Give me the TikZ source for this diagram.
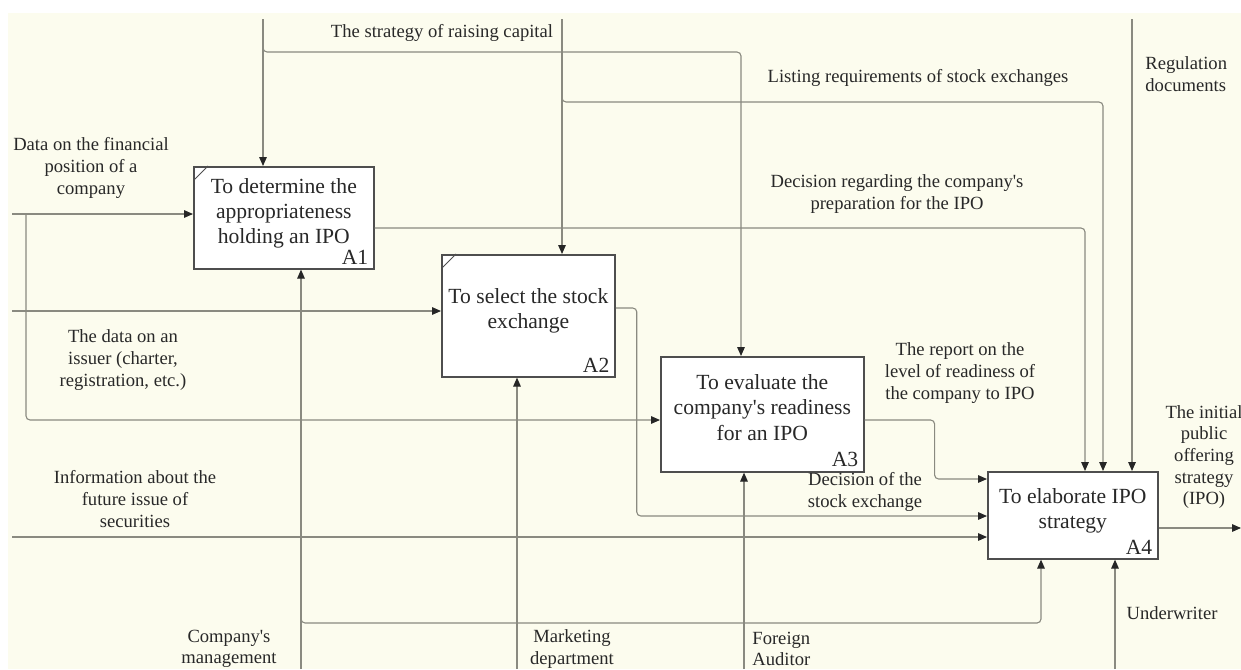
\documentclass[tikz,border=0pt]{standalone}
\usepackage{fontspec}
\setmainfont{Liberation Serif}
\usepackage{tikz}
\usetikzlibrary{arrows.meta,positioning,calc}
\definecolor{idefbg}{RGB}{252,252,238}
\definecolor{idefline}{RGB}{138,138,128}
\definecolor{idefborder}{RGB}{78,78,78}
\definecolor{ideftext}{RGB}{40,40,40}
\tikzstyle{fnbox} = [rectangle, draw=idefborder, fill=white, line width=0.8pt, anchor=north west, align=center, text depth=7pt, text=ideftext, font=\fontsize{10.8}{12.6}\selectfont]
\tikzstyle{boxnum} = [anchor=south east, inner xsep=3pt, inner ysep=2.5pt, text=ideftext, font=\fontsize{10.8}{12}\selectfont]
\tikzstyle{conn} = [draw=idefline, line width=0.55pt, rounded corners=2pt]
\tikzstyle{arr} = [conn, -{Triangle[length=4.5pt,width=3.8pt,color=black!85]}]
\tikzstyle{lbl} = [align=center, inner sep=0pt, text=ideftext, font=\fontsize{9.3}{10.8}\selectfont]

\begin{document}
\begin{tikzpicture}[x=0.5pt, y=-0.5pt]
% Sheet
\fill[idefbg] (8,13) rectangle (1241,669);
\useasboundingbox (0,0) rectangle (1241,669);

% Activities
\node[fnbox, minimum width=90pt, minimum height=51pt] (a1) at (193,166) {To determine the\\appropriateness\\holding an IPO};
\node[fnbox, minimum width=85pt, minimum height=61pt] (a2) at (441,254) {To select the stock\\exchange};
\node[fnbox, minimum width=101.5pt, minimum height=57.5pt] (a3) at (660,356) {To evaluate the\\company\textquotesingle s readiness\\for an IPO};
\node[fnbox, minimum width=85pt, minimum height=43.5pt] (a4) at (987,471) {To elaborate IPO\\strategy};
\node[boxnum] (a1num) at (a1.south east) {A1};
\node[boxnum] (a2num) at (a2.south east) {A2};
\node[boxnum] (a3num) at (a3.south east) {A3};
\node[boxnum] (a4num) at (a4.south east) {A4};
\draw[idefborder, line width=0.4pt] ($(a1.north west)+(1,14)$) -- ($(a1.north west)+(15,0)$);
\draw[idefborder, line width=0.4pt] ($(a2.north west)+(1,14)$) -- ($(a2.north west)+(15,0)$);

% Controls
\coordinate (ctl1) at (263,19);
\coordinate (ctl2) at (562,19);
\coordinate (ctl3) at (1132,19);
\coordinate (ctl1b) at (263,44);
\coordinate (ctl2b) at (562,94);
\draw[arr] (ctl1) -- (ctl1 |- a1.north);
\draw[arr] (ctl1b) -- ++(0,8) -| ($(a3.north west)+(81,0)$);
\draw[arr] (ctl2) -- (ctl2 |- a2.north);
\draw[arr] (ctl2b) -- ++(0,8) -| ($(a4.north west)+(116,0)$);
\draw[arr] (ctl3) -- (ctl3 |- a4.north);

% Inputs
\coordinate (in1) at (12,214);
\coordinate (in2) at (12,311);
\coordinate (in3) at (12,537);
\coordinate (in1b) at (26,214);
\draw[arr] (in1) -- (in1 -| a1.west);
\draw[arr] (in1b) |- ($(a3.north west)+(0,64)$);
\draw[arr] (in2) -- (in2 -| a2.west);
\draw[arr] (in3) -- (in3 -| a4.west);

% Outputs
\coordinate (out1) at (1241,528);
\draw[arr] ($(a1.north east)+(0,62)$) -| ($(a4.north west)+(98,0)$);
\draw[arr] ($(a2.north east)+(0,54)$) -- ++(21,0) |- ($(a4.north west)+(0,45)$);
\draw[arr] ($(a3.north east)+(0,64)$) -- ++(70,0) |- ($(a4.north west)+(0,8)$);
\draw[arr] (out1 -| a4.east) -- (out1);

% Mechanisms
\coordinate (mec1) at (301,669);
\coordinate (mec2) at (517,669);
\coordinate (mec3) at (744,669);
\coordinate (mec4) at (1115,669);
\coordinate (mec1b) at (301,616);
\draw[arr] (mec1) -- (mec1 |- a1.south);
\draw[arr] (mec1b) -- ++(0,7) -| ($(a4.south west)+(54,0)$);
\draw[arr] (mec2) -- (mec2 |- a2.south);
\draw[arr] (mec3) -- (mec3 |- a3.south);
\draw[arr] (mec4) -- (mec4 |- a4.south);

% Arrow labels
\node[lbl] (l-strategy) at (442,33) {The strategy of raising capital};
\node[lbl] (l-listing) at (918,78) {Listing requirements of stock exchanges};
\node[lbl] (l-decision) at (897,194) {Decision regarding the company\textquotesingle s\\preparation for the IPO};
\node[lbl, align=left, anchor=west] (l-regulation) at (1145,74) {Regulation\\documents};
\node[lbl] (l-financial) at (91,168) {Data on the financial\\position of a\\company};
\node[lbl] (l-issuer) at (123,360) {The data on an\\issuer (charter,\\registration, etc.)};
\node[lbl] (l-future) at (135,499) {Information about the\\future issue of\\securities};
\node[lbl] (l-report) at (960,373) {The report on the\\level of readiness of\\the company to IPO};
\node[lbl] (l-exchange) at (865,492) {Decision of the\\stock exchange};
\node[lbl] (l-offering) at (1204,457) {The initial\\public\\offering\\strategy\\(IPO)};
\node[lbl] (l-management) at (229,649) {Company\textquotesingle s\\management};
\node[lbl] (l-marketing) at (572,649) {Marketing\\department};
\node[lbl, align=left, anchor=west] (l-auditor) at (752,649) {Foreign\\Auditor};
\node[lbl] (l-underwriter) at (1172,613) {Underwriter};
\end{tikzpicture}
\end{document}
